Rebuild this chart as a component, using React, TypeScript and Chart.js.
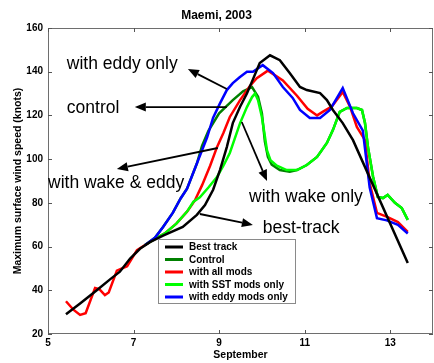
import React, { useEffect, useRef } from "react";
import { Chart, registerables } from "chart.js";

Chart.register(...registerables);

const FONT = "'Liberation Sans', Arial, Helvetica, sans-serif";

const xTickValues = [5, 7, 9, 11, 13];
const yTickValues = [20, 40, 60, 80, 100, 120, 140, 160];

const bestTrackDays = [5.42, 5.75, 6.14, 6.45, 6.68, 6.92, 7.15, 7.38, 7.69, 8.15, 8.48, 8.67, 8.86, 9.02, 9.18, 9.32, 9.49, 9.65, 9.79, 9.95, 10.19, 10.42, 10.65, 10.89, 11.05, 11.36, 11.52, 11.66, 11.89, 12.13, 13.41];
const bestTrackKnots = [29, 34, 40, 45, 48.5, 54.5, 59, 62, 65, 69, 74.5, 79, 86, 95, 105.5, 116.5, 124, 130, 136.5, 144, 147.5, 145.3, 139.4, 133, 131.6, 130.2, 127, 122.5, 116.5, 108.7, 52.5];

const controlDays = [7.27, 7.5, 7.69, 7.92, 8.1, 8.25, 8.48, 8.6, 8.75, 9.0, 9.32, 9.56, 9.77, 9.91, 10.0, 10.07, 10.14, 10.23, 10.42, 10.65, 10.82, 11.05, 11.29, 11.52, 11.66, 11.82, 11.99, 12.22, 12.34, 12.41, 12.48, 12.6, 12.71, 12.83, 12.94, 13.11, 13.27, 13.41];
const controlKnots = [60.7, 64, 69, 75.5, 82, 86.5, 98, 106, 113, 121, 127, 131, 133, 128.5, 121, 108, 101, 97.5, 95, 94.2, 95, 97.3, 101, 107.4, 113.3, 121.6, 123.4, 123.4, 122.5, 116.5, 105.5, 91.8, 82.7, 82.2, 83.6, 80, 77.6, 72.2];

const allModsDays = [5.42, 5.6, 5.75, 5.88, 6.1, 6.2, 6.33, 6.42, 6.61, 6.85, 7.08, 7.27, 7.5, 7.73, 8.0, 8.25, 8.43, 8.6, 8.79, 8.95, 9.1, 9.25, 9.49, 9.72, 9.88, 10.14, 10.49, 10.82, 11.07, 11.29, 11.42, 11.63, 11.89, 12.06, 12.22, 12.41, 12.52, 12.69, 12.94, 13.18, 13.41];
const allModsKnots = [35, 31, 28.7, 29.5, 41, 40.5, 37.8, 39, 49, 51, 58.4, 60.7, 63.5, 66, 70.5, 76, 81, 88, 97, 105.5, 112, 119.3, 127, 133.5, 137, 140.5, 136, 129, 123, 120, 121.6, 124, 130.7, 124, 114.7, 108.7, 89, 75.4, 73.5, 71.2, 66.7];

const sstDays = [7.27, 7.5, 7.73, 8.0, 8.25, 8.4, 8.55, 8.75, 8.95, 9.1, 9.25, 9.49, 9.65, 9.77, 9.84, 9.91, 10.0, 10.05, 10.12, 10.2, 10.35, 10.58, 10.82, 11.05, 11.29, 11.52, 11.66, 11.82, 11.99, 12.22, 12.34, 12.41, 12.48, 12.6, 12.71, 12.83, 12.94, 13.11, 13.27, 13.41];
const sstKnots = [60.7, 63.5, 66, 70.5, 76, 80.5, 82.5, 87, 91.8, 97, 102.8, 116.5, 123.8, 128.4, 130, 127, 119.3, 113, 104, 99.5, 97, 95, 95, 97.3, 101, 107.4, 113.3, 121.6, 123.4, 123.4, 122.5, 116.5, 105.5, 91.8, 82.7, 82.2, 83.6, 80, 77.6, 72.2];

const eddyDays = [7.27, 7.5, 7.69, 7.92, 8.1, 8.25, 8.48, 8.72, 8.86, 9.02, 9.18, 9.32, 9.48, 9.65, 9.79, 10.02, 10.26, 10.49, 10.72, 10.89, 11.12, 11.36, 11.59, 11.89, 12.13, 12.36, 12.52, 12.69, 12.92, 13.18, 13.41];
const eddyKnots = [60.7, 64, 69, 75.5, 82, 86.5, 98, 110, 119, 125.5, 131.6, 134.8, 137.5, 140, 140, 143, 139.4, 133, 128, 122.5, 118.8, 118.8, 122.5, 132.5, 121, 113, 87, 73, 72, 70, 66];

const seriesLabels = ["Best track", "Control", "with all mods", "with SST mods only", "with eddy mods only"];
const seriesColors = ["#000000", "#008000", "#ff0000", "#00ff00", "#0000ff"];

const noteTexts = ["with eddy only", "control", "with wake & eddy", "with wake only", "best-track"];
const noteDays = [5.44, 5.44, 5.0, 9.7, 10.02];
const noteKnots = [141.2, 121.1, 86.8, 80.4, 66.2];

const arrowTailDays = [9.18, 9.18, 8.97, 9.53, 8.55];
const arrowTailKnots = [132.1, 123.8, 105.1, 117, 74.9];
const arrowHeadDays = [8.27, 7.03, 6.61, 10.12, 9.79];
const arrowHeadKnots = [141.2, 123.8, 95.5, 90, 69.9];

const zip = (xs: number[], ys: number[]) => xs.map((x, i) => ({ x, y: ys[i] }));

const decorPlugin = {
  id: "decor",
  afterDraw(chart: any) {
    const { ctx, chartArea: ca, scales } = chart;
    const xs = scales.x;
    const ys = scales.y;
    ctx.save();

    // axes box
    ctx.strokeStyle = "#6e6e6e";
    ctx.lineWidth = 1;
    ctx.strokeRect(ca.left + 0.5, ca.top + 0.5, ca.right - ca.left - 1, ca.bottom - ca.top - 1);

    // inward ticks
    ctx.strokeStyle = "#555";
    ctx.beginPath();
    yTickValues.forEach((v) => {
      const py = Math.round(ys.getPixelForValue(v)) + 0.5;
      ctx.moveTo(ca.left, py);
      ctx.lineTo(ca.left + 4, py);
      ctx.moveTo(ca.right - 4, py);
      ctx.lineTo(ca.right, py);
    });
    xTickValues.forEach((v) => {
      const px = Math.round(xs.getPixelForValue(v)) + 0.5;
      ctx.moveTo(px, ca.bottom);
      ctx.lineTo(px, ca.bottom - 4);
      ctx.moveTo(px, ca.top);
      ctx.lineTo(px, ca.top + 4);
    });
    ctx.stroke();

    // arrows
    ctx.strokeStyle = "#000";
    ctx.fillStyle = "#000";
    arrowTailDays.forEach((d, i) => {
      const x1 = xs.getPixelForValue(d);
      const y1 = ys.getPixelForValue(arrowTailKnots[i]);
      const x2 = xs.getPixelForValue(arrowHeadDays[i]);
      const y2 = ys.getPixelForValue(arrowHeadKnots[i]);
      const ang = Math.atan2(y2 - y1, x2 - x1);
      const len = 11;
      const hw = 4.5;
      const bx = x2 - Math.cos(ang) * len;
      const by = y2 - Math.sin(ang) * len;
      ctx.lineWidth = 1.8;
      ctx.beginPath();
      ctx.moveTo(x1, y1);
      ctx.lineTo(bx, by);
      ctx.stroke();
      ctx.beginPath();
      ctx.moveTo(x2, y2);
      ctx.lineTo(bx - Math.sin(ang) * hw, by + Math.cos(ang) * hw);
      ctx.lineTo(bx + Math.sin(ang) * hw, by - Math.cos(ang) * hw);
      ctx.closePath();
      ctx.fill();
    });

    // annotation texts
    ctx.font = `17.5px ${FONT}`;
    ctx.textAlign = "left";
    ctx.textBaseline = "alphabetic";
    noteTexts.forEach((t, i) => {
      ctx.fillText(t, xs.getPixelForValue(noteDays[i]), ys.getPixelForValue(noteKnots[i]));
    });

    // legend
    const lx = ca.left + 110;
    const ly = ca.top + 211;
    const lw = 138;
    const lh = 65;
    ctx.fillStyle = "#fff";
    ctx.fillRect(lx, ly, lw, lh);
    ctx.strokeStyle = "#8a8a8a";
    ctx.lineWidth = 1;
    ctx.strokeRect(lx + 0.5, ly + 0.5, lw - 1, lh - 1);
    ctx.font = `bold 10px ${FONT}`;
    ctx.textBaseline = "middle";
    seriesLabels.forEach((lab, i) => {
      const ry = ly + 8 + i * 12.5;
      ctx.strokeStyle = seriesColors[i];
      ctx.lineWidth = 3;
      ctx.beginPath();
      ctx.moveTo(lx + 7, ry);
      ctx.lineTo(lx + 25, ry);
      ctx.stroke();
      ctx.fillStyle = "#000";
      ctx.fillText(lab, lx + 31, ry + 0.5);
    });

    ctx.restore();
  },
};

export default function App() {
  const canvasRef = useRef<HTMLCanvasElement | null>(null);

  useEffect(() => {
    if (!canvasRef.current) return;
    const series = [
      zip(bestTrackDays, bestTrackKnots),
      zip(controlDays, controlKnots),
      zip(allModsDays, allModsKnots),
      zip(sstDays, sstKnots),
      zip(eddyDays, eddyKnots),
    ];
    const orders = [-1, 3, 2, 1, 0];
    const chart = new Chart(canvasRef.current, {
      type: "line",
      data: {
        datasets: series.map((data, i) => ({
          label: seriesLabels[i],
          data,
          borderColor: seriesColors[i],
          backgroundColor: seriesColors[i],
          borderWidth: 2.5,
          pointRadius: 0,
          tension: 0,
          fill: false,
          order: orders[i],
        })),
      },
      options: {
        animation: false,
        responsive: false,
        devicePixelRatio: 1,
        layout: { padding: { top: 0, right: 1, bottom: 0, left: 0 } },
        plugins: {
          legend: { display: false },
          tooltip: { enabled: false },
          title: {
            display: true,
            text: "Maemi, 2003",
            color: "#000",
            font: { family: FONT, size: 12, weight: "bold" },
            padding: { top: 8, bottom: 5.6 },
          },
        },
        scales: {
          x: {
            type: "linear",
            min: 5,
            max: 14,
            afterBuildTicks: (s: any) => {
              s.ticks = xTickValues.map((v) => ({ value: v }));
            },
            afterFit: (s: any) => {
              s.height = 29;
            },
            grid: { display: false, drawTicks: false },
            border: { display: false },
            ticks: {
              color: "#000",
              font: { family: FONT, size: 10, weight: "bold" },
              padding: 3,
              maxRotation: 0,
              autoSkip: false,
            },
            title: {
              display: true,
              text: "September",
              color: "#000",
              font: { family: FONT, size: 10.5, weight: "bold" },
              padding: { top: 0, bottom: 2 },
            },
          },
          y: {
            type: "linear",
            min: 20,
            max: 160,
            afterBuildTicks: (s: any) => {
              s.ticks = yTickValues.map((v) => ({ value: v }));
            },
            afterFit: (s: any) => {
              s.width = 48;
            },
            grid: { display: false, drawTicks: false },
            border: { display: false },
            ticks: {
              color: "#000",
              font: { family: FONT, size: 10, weight: "bold" },
              padding: 5,
              autoSkip: false,
            },
            title: {
              display: true,
              text: "Maximum surface wind speed (knots)",
              color: "#000",
              font: { family: FONT, size: 10.5, weight: "bold" },
              padding: { top: 11.7, bottom: 0 },
            },
          },
        },
      },
      plugins: [decorPlugin],
    } as any);
    return () => chart.destroy();
  }, []);

  return (
    <div style={{ position: "fixed", left: 0, top: 0, width: 434, height: 363, background: "#fff" }}>
      <canvas ref={canvasRef} width={434} height={363} style={{ display: "block", width: 434, height: 363 }} />
    </div>
  );
}
